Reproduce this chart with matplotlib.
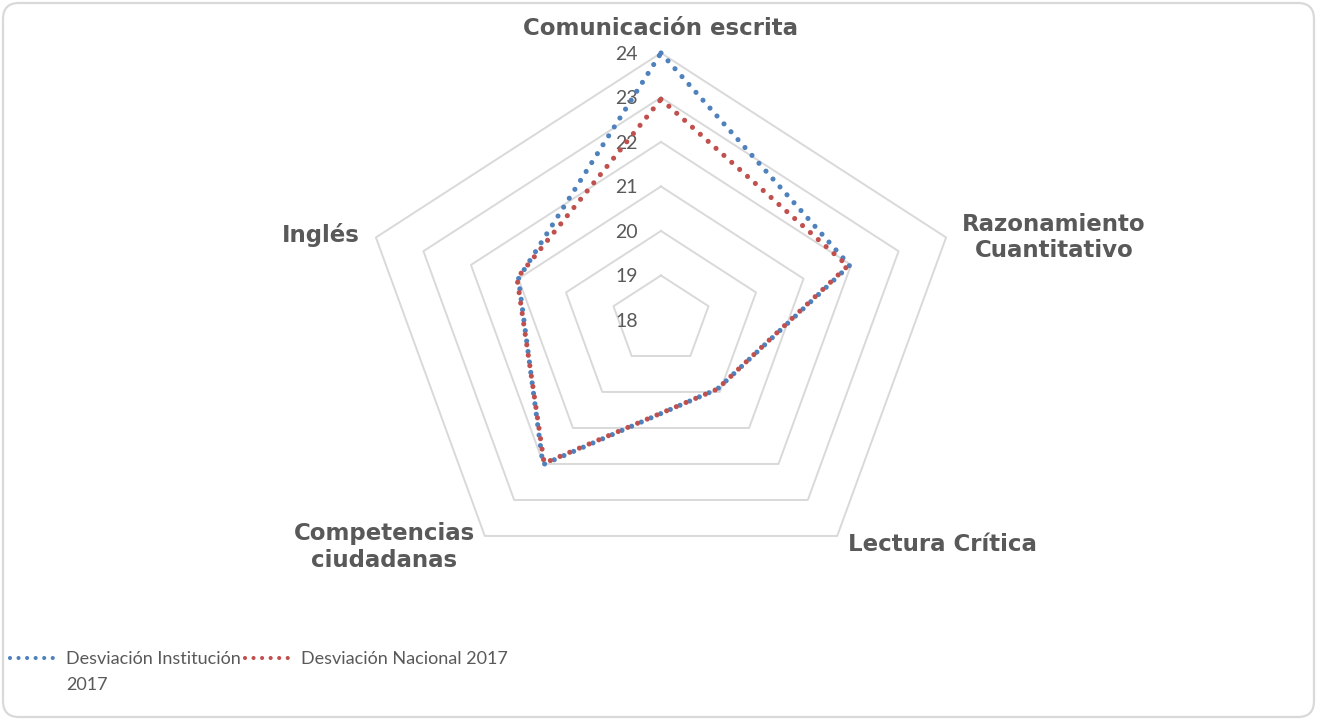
import numpy as np
import matplotlib
matplotlib.use('Agg')
import matplotlib.pyplot as plt
from matplotlib.patches import FancyBboxPatch
from matplotlib.legend_handler import HandlerLine2D

plt.rcParams['font.family'] = ['Lato', 'DejaVu Sans']

# Data
categories = ['Comunicación escrita', 'Razonamiento\nCuantitativo', 'Lectura Crítica',
              'Competencias\nciudadanas', 'Inglés']
institucion = [24.0, 21.97, 19.92, 22.02, 21.0]
nacional = [22.96, 21.93, 19.92, 21.98, 21.03]
series_labels = ['Desviación Institución\n2017', 'Desviación Nacional 2017']
ring_values = [18, 19, 20, 21, 22, 23, 24]
r_min = 18

BLUE = '#4F81BD'
RED = '#C0504D'
GRID = '#D9D9D9'
TEXT = '#595959'
DOTS = (0, (0.001, 2.05))

fig = plt.figure(figsize=(13.17, 7.2), dpi=100)
ax = fig.add_axes([0, 0, 1, 1])
ax.set_xlim(-13.23, 13.13)
ax.set_ylim(-8.99, 7.19)
ax.axis('off')

# chart border
fig.patches.append(FancyBboxPatch((0.03, 0.03), 13.11, 7.14,
                                  boxstyle='round,pad=0,rounding_size=0.16',
                                  transform=fig.dpi_scale_trans,
                                  facecolor='none', edgecolor=GRID, lw=1.6))

n = len(categories)
theta = np.deg2rad(90 - 72 * np.arange(n))
theta_closed = np.append(theta, theta[0])


def to_xy(values):
    r = np.array(list(values) + [values[0]]) - r_min
    return r * np.cos(theta_closed), r * np.sin(theta_closed)


# pentagon grid
for v in ring_values[1:]:
    x, y = to_xy([v] * n)
    ax.plot(x, y, color=GRID, lw=1.4, zorder=1)

# radial tick labels
for v in ring_values:
    ax.annotate(str(v), xy=(0, v - r_min), xytext=(-16.5, 0), textcoords='offset points',
                ha='right', va='center_baseline', fontsize=14, color=TEXT)

# series
handles = []
for vals, col in [(institucion, BLUE), (nacional, RED)]:
    x, y = to_xy(vals)
    ln, = ax.plot(x, y, color=col, lw=3.7, linestyle=DOTS,
                  dash_capstyle='round', zorder=3)
    handles.append(ln)

# category labels
r_out = ring_values[-1] - r_min
label_fmt = [
    dict(xytext=(0, 13), ha='center', va='baseline'),
    dict(xytext=(11.5, 0), ha='left', va='center'),
    dict(xytext=(8, -6.5), ha='left', va='center'),
    dict(xytext=(-7, -8), ha='right', va='center'),
    dict(xytext=(-11.5, 1.5), ha='right', va='center'),
]
for k, lab in enumerate(categories):
    ax.annotate(lab, xy=(r_out * np.cos(theta[k]), r_out * np.sin(theta[k])),
                textcoords='offset points', multialignment='center',
                fontsize=16.5, fontweight='bold', color=TEXT,
                family=['DejaVu Sans'], **label_fmt[k])


class RaisedLine(HandlerLine2D):
    """Legend line moved up so it sits next to the first line of a wrapped label."""
    def __init__(self, shift, **kw):
        super().__init__(**kw)
        self.shift = shift

    def create_artists(self, legend, orig_handle, xdescent, ydescent, width,
                       height, fontsize, trans):
        arts = super().create_artists(legend, orig_handle, xdescent, ydescent,
                                      width, height, fontsize, trans)
        for a in arts:
            a.set_ydata(np.asarray(a.get_ydata()) + self.shift)
        return arts


leg_kw = dict(loc='upper left', frameon=False, fontsize=13, labelcolor=TEXT,
              handlelength=2.6, handletextpad=0.5, borderpad=0, borderaxespad=0)
leg1 = fig.legend([handles[0]], [series_labels[0]],
                  bbox_to_anchor=(10 / 1317, 1 - 651 / 720),
                  handler_map={handles[0]: RaisedLine(10.5)}, **leg_kw)
leg1.get_texts()[0].set_linespacing(1.8)
leg1.get_lines()[0].set_linewidth(3.0)
leg2 = fig.legend([handles[1]], [series_labels[1]],
                  bbox_to_anchor=(245 / 1317, 1 - 651 / 720), **leg_kw)
leg2.get_lines()[0].set_linewidth(3.0)

fig.savefig('out.png', dpi=100)
